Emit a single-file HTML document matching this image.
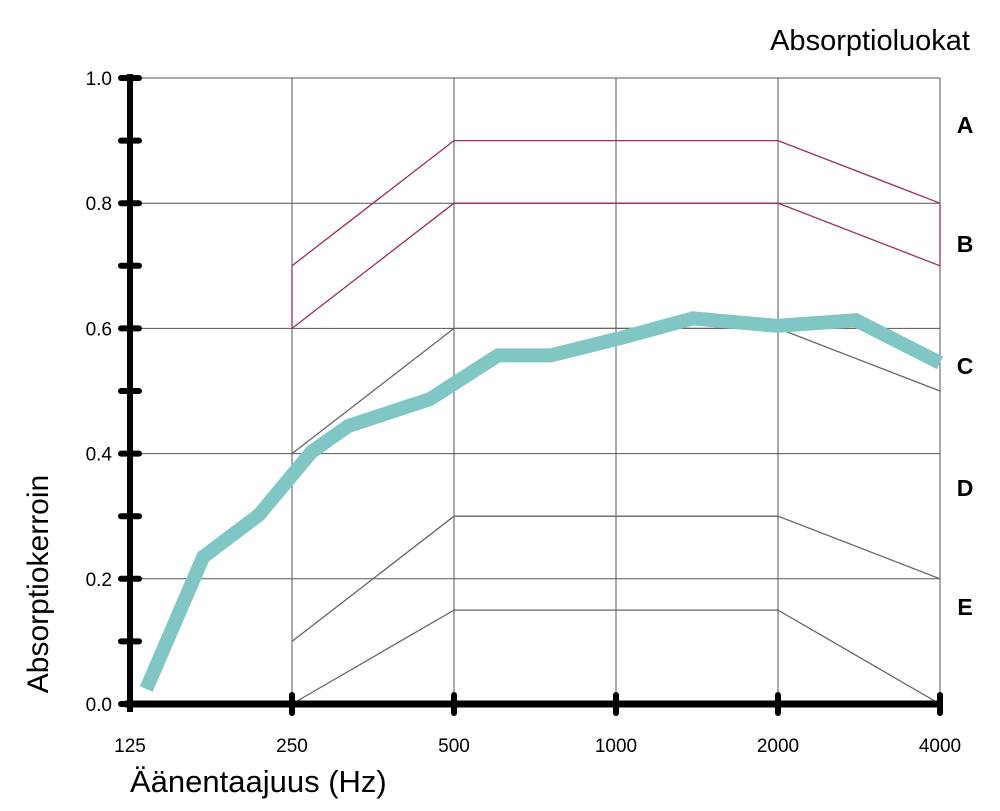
<!DOCTYPE html>
<html><head><meta charset="utf-8"><style>
body{margin:0;background:#fff}
svg{display:block;font-family:"Liberation Sans",sans-serif}
</style></head><body>
<svg id="chart" width="1000" height="811" viewBox="0 0 1000 811"></svg>
<script>
const xTickFreqs=[125,250,500,1000,2000,4000];
const xTickLabels=["125","250","500","1000","2000","4000"];
const yTickVals=[0,0.2,0.4,0.6,0.8,1.0];
const yTickLabels=["0.0","0.2","0.4","0.6","0.8","1.0"];
const classNames=["A","B","C","D","E"];
const classFreqs=[250,500,1000,2000,4000];
const classA=[0.7,0.9,0.9,0.9,0.8];
const classB=[0.6,0.8,0.8,0.8,0.7];
const classC=[0.4,0.6,0.6,0.6,0.5];
const classD=[0.1,0.3,0.3,0.3,0.2];
const classE=[0.0,0.15,0.15,0.15,0.0];
const measFreqs=[134,171,217,272,318,451,604,757,1013,1390,1991,2791,4000];
const measVals=[0.024,0.235,0.302,0.403,0.444,0.487,0.557,0.557,0.584,0.616,0.604,0.613,0.545];

const NS="http://www.w3.org/2000/svg";
const svg=document.getElementById('chart');
const X0=130,OCT=162,Y0=704,YH=626;
function xs(f){return X0+OCT*Math.log2(f/125);}
function ys(v){return Y0-v*YH;}
function mk(tag,attrs,parent){const e=document.createElementNS(NS,tag);for(const k in attrs)e.setAttribute(k,attrs[k]);(parent||svg).appendChild(e);return e;}

// grid
xTickFreqs.forEach((f,i)=>{if(i===0)return;
 const l=mk('line',{x1:xs(f),x2:xs(f),y1:ys(1),y2:Y0,stroke:'#555','stroke-width':1});
 
 
});
yTickVals.forEach(v=>{if(v===0)return;
 const l=mk('line',{x1:X0,x2:xs(4000),y1:ys(v),y2:ys(v),stroke:'#555','stroke-width':1});
 
 
});
// class curves
const classes=[classA,classB,classC,classD,classE];
const classColors=['#9b2b63','#9b2b63','#666','#666','#666'];
classes.forEach((arr,ci)=>{
 const pts=arr.map((v,i)=>xs(classFreqs[i])+','+ys(v)).join(' ');
 const p=mk('polyline',{points:pts,fill:'none',stroke:classColors[ci],'stroke-width':1.3});
 
 
});
// purple connectors A-B
[0,4].forEach(i=>{
 const l=mk('line',{x1:xs(classFreqs[i]),x2:xs(classFreqs[i]),y1:ys(classA[i]),y2:ys(classB[i]),stroke:'#9b2b63','stroke-width':1.3});
 
 
});
// measured
const mp=mk('polyline',{points:measFreqs.map((f,i)=>xs(f)+','+ys(measVals[i])).join(' '),fill:'none',stroke:'#7fc6c4','stroke-width':14,'stroke-linejoin':'miter'});


// axes
const ya=mk('line',{x1:X0,x2:X0,y1:ys(1)-4,y2:Y0+8,stroke:'#000','stroke-width':6});


const xa=mk('line',{x1:X0-5,x2:xs(4000),y1:Y0,y2:Y0,stroke:'#000','stroke-width':7});


for(let k=0;k<=10;k++){
 const t=mk('line',{x1:X0-9,x2:X0+9,y1:ys(k/10),y2:ys(k/10),stroke:'#000','stroke-width':6,'stroke-linecap':'round'});
 
 
}
xTickFreqs.forEach((f,i)=>{if(i===0)return;
 const t=mk('line',{x1:xs(f),x2:xs(f),y1:Y0-9,y2:Y0+9,stroke:'#000','stroke-width':6,'stroke-linecap':'round'});
 
 
});
// labels
yTickVals.forEach((v,i)=>{
 const t=mk('text',{x:112,y:ys(v)+7,'text-anchor':'end','font-size':19});
 t.textContent=yTickLabels[i];
 
 
});
xTickFreqs.forEach((f,i)=>{
 const t=mk('text',{x:xs(f),y:752,'text-anchor':'middle','font-size':19});
 t.textContent=xTickLabels[i];
 
 
});
const classLabelVals=[0.925,0.735,0.54,0.345,0.155];
classNames.forEach((n,i)=>{
 const t=mk('text',{x:965,y:ys(classLabelVals[i])+8,'text-anchor':'middle','font-size':23,'font-weight':'bold'});
 t.textContent=n;
 
 
});
const lt=mk('text',{x:970,y:50,'text-anchor':'end','font-size':29});
lt.textContent='Absorptioluokat';


const xt=mk('text',{x:130,y:792,'font-size':31});
xt.textContent='Äänentaajuus (Hz)';


const yt=mk('text',{x:0,y:0,'font-size':30,'text-anchor':'middle',transform:'translate(48,584) rotate(-90)'});
yt.textContent='Absorptiokerroin';


</script>
</body></html>
